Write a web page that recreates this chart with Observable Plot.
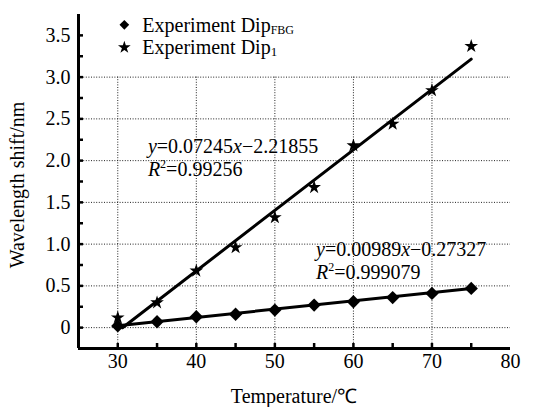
<!DOCTYPE html>
<html><head><meta charset="utf-8">
<script src="https://cdn.jsdelivr.net/npm/d3@7"></script>
<script src="https://cdn.jsdelivr.net/npm/@observablehq/plot@0.6"></script>
<style>body{margin:0;background:#fff}</style>
</head><body><div id="chart"></div>
<script>
const FONT = '"Liberation Serif", "Times New Roman", serif';
const temperatures = [30, 35, 40, 45, 50, 55, 60, 65, 70, 75];
const dipFBG = [0.02, 0.07, 0.13, 0.16, 0.21, 0.27, 0.31, 0.36, 0.41, 0.47];
const dip1 = [0.12, 0.30, 0.68, 0.96, 1.32, 1.68, 2.18, 2.44, 2.84, 3.37];
const fitSlopes = [0.00989, 0.07245];
const fitIntercepts = [-0.27327, -2.21855];
const fitR2 = ["0.999079", "0.99256"];
const fitRange = [30.6, 75];
const xTickLabels = [30, 40, 50, 60, 70, 80];
const yTickLabels = [0, 0.5, 1.0, 1.5, 2.0, 2.5, 3.0, 3.5];
const xMinorTicks = [30, 35, 40, 45, 50, 55, 60, 65, 70, 75];
const yMinorTicks = d3.range(0, 3.5001, 0.25);
const gridX = [30, 40, 50, 60, 70];
const gridY = [0, 0.5, 1.0, 1.5, 2.0, 2.5, 3.0];
const xDomain = [25, 80];
const yDomain = [-0.25, 3.75];

const fbgRows = temperatures.map((t, i) => ({t, v: dipFBG[i]}));
const dip1Rows = temperatures.map((t, i) => ({t, v: dip1[i]}));
const fitRows = (k) => fitRange.map(t => ({t, v: fitSlopes[k] * t + fitIntercepts[k]}));

function fmtEq(k) {
  const s = fitSlopes[k].toFixed(5), c = Math.abs(fitIntercepts[k]).toFixed(5);
  return [s, c];
}

function overlay(index, scales, values, dim) {
  const g = d3.create("svg:g").attr("font-family", FONT).attr("fill", "#000").attr("text-anchor", "start");
  const x = scales.x, y = scales.y;
  // legend
  const leg = [
    {sym: d3.symbolDiamond2, size: 60, label: "Experiment Dip", sub: "FBG", subSize: 12, t: 30.9, v: 3.62},
    {sym: d3.symbolStar, size: 50, label: "Experiment Dip", sub: "1", subSize: 13, t: 30.9, v: 3.35}
  ];
  for (const L of leg) {
    g.append("path").attr("d", d3.symbol(L.sym, L.size)()).attr("transform", `translate(${x(L.t)},${y(L.v)})`);
    const tx = g.append("text").attr("x", x(L.t) + 18).attr("y", y(L.v) + 7).attr("font-size", 20);
    tx.append("tspan").text(L.label);
    tx.append("tspan").attr("font-size", L.subSize).attr("dy", 2).text(L.sub);
  }
  // annotations
  const ann = [
    {k: 1, t: 33.9, v: 2.09},
    {k: 0, t: 55.3, v: 0.85}
  ];
  for (const A of ann) {
    const [s, c] = fmtEq(A.k);
    const t1 = g.append("text").attr("x", x(A.t)).attr("y", y(A.v)).attr("font-size", 20);
    t1.append("tspan").attr("font-style", "italic").text("y");
    t1.append("tspan").text("=" + s);
    t1.append("tspan").attr("font-style", "italic").text("x");
    t1.append("tspan").text("\u2212" + c);
    const t2 = g.append("text").attr("x", x(A.t)).attr("y", y(A.v) + 23).attr("font-size", 20);
    t2.append("tspan").attr("font-style", "italic").text("R");
    t2.append("tspan").attr("font-size", 12).attr("dy", -8).text("2");
    t2.append("tspan").attr("dy", 8).text("=" + fitR2[A.k]);
  }
  // axis labels
  g.append("text").attr("x", (dim.marginLeft + dim.width - dim.marginRight) / 2).attr("y", 403)
    .attr("text-anchor", "middle").attr("font-size", 20).text("Temperature/\u2103");
  g.append("text").attr("transform", `translate(24,${(dim.marginTop + dim.height - dim.marginBottom) / 2 + 4}) rotate(-90)`)
    .attr("text-anchor", "middle").attr("font-size", 20).text("Wavelength shift/nm");
  return g.node();
}

const chart = Plot.plot({
  width: 543, height: 407,
  marginLeft: 78, marginRight: 33, marginTop: 14, marginBottom: 59,
  style: {fontFamily: FONT, fontSize: "20px", background: "#fff", color: "#000", overflow: "visible"},
  x: {domain: xDomain},
  y: {domain: yDomain},
  marks: [
    Plot.ruleY(gridY, {x1: xDomain[0], x2: xDomain[1], stroke: "#222", strokeWidth: 1, strokeDasharray: "1,1.6"}),
    Plot.ruleX(gridX, {y1: yDomain[0], y2: 3.0, stroke: "#222", strokeWidth: 1, strokeDasharray: "1,1.6"}),
    Plot.axisY({ticks: yTickLabels, tickSize: 0, tickPadding: 8, tickFormat: d => d === 0 ? "0" : d.toFixed(1), label: null, fontSize: 20}),
    Plot.axisX({ticks: xTickLabels, tickSize: 0, tickPadding: 5, tickFormat: d => String(d), label: null, fontSize: 20}),
    Plot.axisY({ticks: yMinorTicks, tickSize: -5, tickFormat: () => "", label: null, strokeWidth: 2.5}),
    Plot.axisX({ticks: xMinorTicks, tickSize: -5, tickFormat: () => "", label: null, strokeWidth: 2.5}),
    Plot.ruleX([xDomain[0]], {y1: yDomain[0], y2: yDomain[1], stroke: "#000", strokeWidth: 3}),
    Plot.ruleY([yDomain[0]], {x1: xDomain[0], x2: xDomain[1], stroke: "#000", strokeWidth: 3}),
    Plot.line(fitRows(1), {x: "t", y: "v", stroke: "#000", strokeWidth: 3}),
    Plot.line(fitRows(0), {x: "t", y: "v", stroke: "#000", strokeWidth: 3}),
    Plot.dot(fbgRows, {x: "t", y: "v", symbol: "diamond2", r: 6, fill: "#000", stroke: "none"}),
    Plot.dot(dip1Rows, {x: "t", y: "v", symbol: "star", r: 4.3, fill: "#000", stroke: "none"}),
    overlay
  ]
});
document.getElementById("chart").appendChild(chart);
</script>
</body></html>
